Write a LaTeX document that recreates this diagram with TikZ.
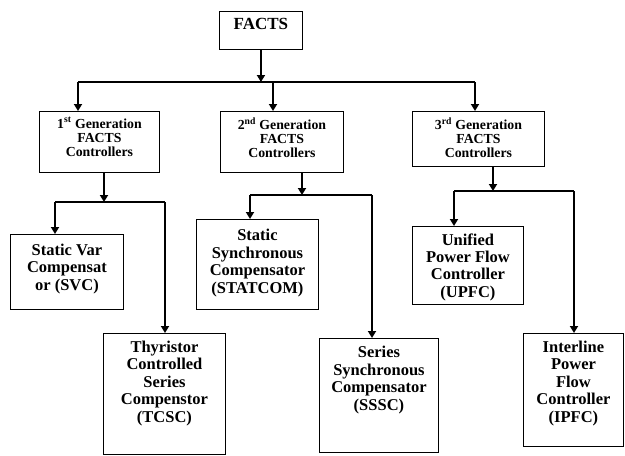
\documentclass[tikz,border=0pt]{standalone}
\usepackage{fontspec}
\setmainfont{Liberation Serif}
\usetikzlibrary{calc,arrows.meta}

\newcommand{\boxlines}[4]{\parbox[c][#2][t]{#1}{\centering\vspace*{#3}#4}}

\begin{document}
\begin{tikzpicture}[
  x=1pt, y=-1pt,
  box/.style={draw, line width=0.9pt, inner sep=0pt, anchor=north west,
    font=\bfseries\fontsize{16.5}{17.4}\selectfont},
  genbox/.style={box, font=\bfseries\fontsize{13.8}{14.3}\selectfont},
  topbox/.style={box, font=\bfseries\fontsize{17}{20}\selectfont},
  link/.style={line width=1.8pt},
  buslink/.style={line width=1.3pt},
  arr/.style={link, -{Triangle[length=7pt,width=8pt]}}
]
\useasboundingbox (0,0) rectangle (625,456);

\node[topbox] (facts) at (219,11) {\boxlines{83pt}{38pt}{6.5pt}{FACTS}};

\node[genbox] (gen1) at (39,111) {\boxlines{120pt}{61pt}{6pt}{1\textsuperscript{st} Generation\\FACTS\\Controllers}};
\node[genbox] (gen2) at (220,111) {\boxlines{123pt}{61pt}{6pt}{2\textsuperscript{nd} Generation\\FACTS\\Controllers}};
\node[genbox] (gen3) at (412,111) {\boxlines{132pt}{55pt}{6pt}{3\textsuperscript{rd} Generation\\FACTS\\Controllers}};

\node[box] (svc) at (10,234) {\boxlines{113pt}{75pt}{9.5pt}{Static Var\\Compensat\\or (SVC)}};
\node[box] (tcsc) at (103,333) {\boxlines{122pt}{121pt}{7.5pt}{Thyristor\\Controlled\\Series\\Compenstor\\(TCSC)}};
\node[box] (statcom) at (196,219) {\boxlines{122pt}{90pt}{10pt}{Static\\Synchronous\\Compensator\\(STATCOM)}};
\node[box] (sssc) at (319,338) {\boxlines{119pt}{114pt}{8pt}{Series\\Synchronous\\Compensator\\(SSSC)}};
\node[box] (upfc) at (412,226) {\boxlines{111pt}{78pt}{7pt}{Unified\\Power Flow\\Controller\\(UPFC)}};
\node[box] (ipfc) at (523,333) {\boxlines{100pt}{113pt}{7.5pt}{Interline\\Power\\Flow\\Controller\\(IPFC)}};

\coordinate (bus1) at (78,82);
\coordinate (bus2) at (273,82);
\coordinate (bus3) at (475,82);
\draw[arr] (facts.south) -- (facts.south |- bus1);
\draw[buslink] (bus1) -- (bus3);
\draw[arr] (bus1) -- (bus1 |- gen1.north);
\draw[arr] (bus2) -- (bus2 |- gen2.north);
\draw[arr] (bus3) -- (bus3 |- gen3.north);

\coordinate (fork1) at (104,202);
\coordinate (svcin) at (55,202);
\coordinate (tcscin) at (165,202);
\draw[arr] (fork1 |- gen1.south) -- (fork1);
\draw[buslink] (svcin) -- (tcscin);
\draw[arr] (svcin) -- (svcin |- svc.north);
\draw[arr] (tcscin) -- (tcscin |- tcsc.north);

\coordinate (fork2) at (302,195);
\coordinate (statin) at (250,195);
\coordinate (ssscin) at (372,195);
\draw[arr] (fork2 |- gen2.south) -- (fork2);
\draw[buslink] (statin) -- (ssscin);
\draw[arr] (statin) -- (statin |- statcom.north);
\draw[arr] (ssscin) -- (ssscin |- sssc.north);

\coordinate (fork3) at (493,191);
\coordinate (upfcin) at (454,191);
\coordinate (ipfcin) at (574,191);
\draw[arr] (fork3 |- gen3.south) -- (fork3);
\draw[buslink] (upfcin) -- (ipfcin);
\draw[arr] (upfcin) -- (upfcin |- upfc.north);
\draw[arr] (ipfcin) -- (ipfcin |- ipfc.north);
\end{tikzpicture}
\end{document}
